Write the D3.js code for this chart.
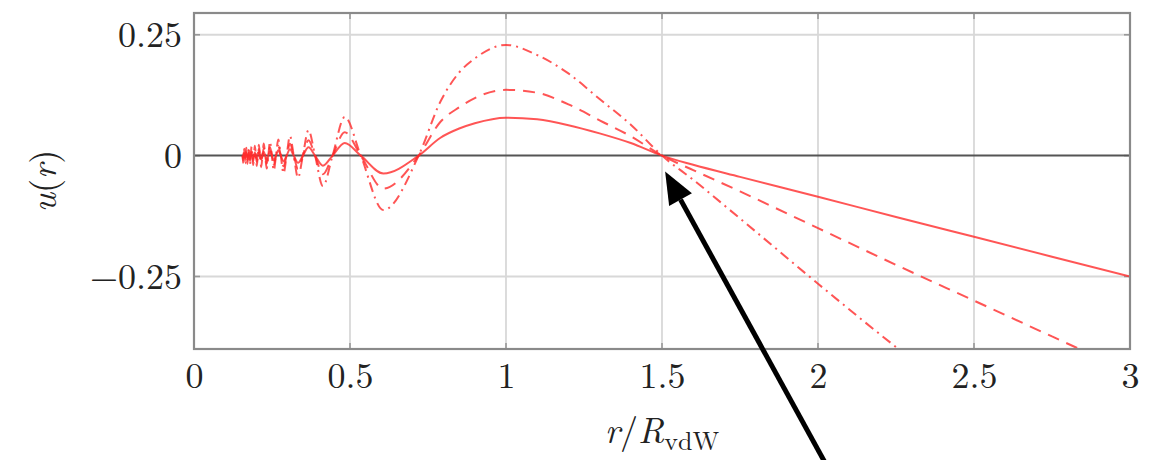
<!DOCTYPE html>
<html><head><meta charset="utf-8">
<script src="https://cdn.jsdelivr.net/npm/d3@7"></script>
<style>html,body{margin:0;padding:0;background:#fff;} svg{display:block;}</style>
</head><body><svg id="c" width="1154" height="460"></svg>
<script>
// r / R_vdW sample positions (nodes and extrema of inner oscillations, then outer region)
const rValues = [0.1558,0.1573,0.1589,0.1605,0.1621,0.1638,0.1656,0.1674,0.1692,0.1712,
  0.1732,0.1753,0.1774,0.1796,0.1820,0.1844,0.1869,0.1895,0.1922,0.1951,
  0.1981,0.2012,0.2045,0.2079,0.2115,0.2153,0.2194,0.2236,0.2282,0.2330,
  0.2381,0.2436,0.2495,0.2558,0.2627,0.2701,0.2782,0.2870,0.2968,0.3076,
  0.3197,0.3334,0.3489,0.3669,0.3880,0.4132,0.4441,0.4831,0.5345,0.6070,
  0.72,0.79,0.85,0.90,1.00,1.10,1.20,1.30,1.40,1.50,1.60,1.75,2.00,2.25,2.50,2.75,3.00];

const uSolid = [0,-0.0049,0,0.0050,0,-0.0052,0,0.0053,0,-0.0055,
  0,0.0057,0,-0.0059,0,0.0062,0,-0.0064,0,0.0067,
  0,-0.0070,0,0.0074,0,-0.0078,0,0.0082,0,-0.0088,
  0,0.0094,0,-0.0101,0,0.0110,0,-0.0120,0,0.0133,
  0,-0.0150,0,0.0173,0,-0.0207,0,0.0262,0,-0.0369,
  0,0.037,0.056,0.067,0.0785,0.075,0.063,0.046,0.026,0,-0.019,-0.044,-0.085,-0.127,-0.168,-0.209,-0.25];

const uDashed = [0,-0.0091,0,0.0093,0,-0.0096,0,0.0098,0,-0.0102,
  0,0.0105,0,-0.0109,0,0.0115,0,-0.0118,0,0.0124,
  0,-0.0130,0,0.0137,0,-0.0144,0,0.0152,0,-0.0163,
  0,0.0174,0,-0.0187,0,0.0204,0,-0.0222,0,0.0246,
  0,-0.0278,0,0.0320,0,-0.0383,0,0.0485,0,-0.0683,
  0,0.070,0.100,0.119,0.136,0.130,0.106,0.073,0.040,0,-0.030,-0.074,-0.150,-0.226,-0.300,-0.374,-0.448];

const uDashDot = [0,-0.0149,0,0.0153,0,-0.0159,0,0.0162,0,-0.0168,
  0,0.0174,0,-0.0180,0,0.0189,0,-0.0195,0,0.0204,
  0,-0.0214,0,0.0226,0,-0.0238,0,0.0250,0,-0.0268,
  0,0.0287,0,-0.0308,0,0.0336,0,-0.0366,0,0.0406,
  0,-0.0458,0,0.0528,0,-0.0631,0,0.0799,0,-0.1125,
  0,0.112,0.172,0.201,0.229,0.208,0.170,0.117,0.064,0,-0.050,-0.130,-0.265,-0.396,-0.52,-0.65,-0.78];

const xTicks = [0,0.5,1,1.5,2,2.5,3];
const xTickLabels = ["0","0.5","1","1.5","2","2.5","3"];
const yTicks = [-0.25,0,0.25];
const yTickLabels = ["\u22120.25","0","0.25"];
const arrowTip = [1.51,-0.033];
const arrowTail = [2.02,-0.632];

const L=194,R=1130,T=13,B=349;
const FONT = "'Latin Modern Roman','CMU Serif','Liberation Serif','DejaVu Serif',serif";
const svg = d3.select("#c");
const x = d3.scaleLinear().domain([0,3]).range([L,R]);
const y = d3.scaleLinear().domain([-0.4,0.295]).range([B,T]);

// grid
const grid = svg.append("g");
grid.selectAll("line.gx").data(xTicks.filter(v=>v>0&&v<3)).join("line")
  .attr("x1",d=>x(d)).attr("x2",d=>x(d)).attr("y1",T).attr("y2",B)
  .attr("stroke","#d8d8d8").attr("stroke-width",1.8);
grid.selectAll("line.gy").data(yTicks.filter(v=>v!==0)).join("line")
  .attr("x1",L).attr("x2",R).attr("y1",d=>y(d)).attr("y2",d=>y(d))
  .attr("stroke","#d8d8d8").attr("stroke-width",1.8);

// small ticks
const tk = svg.append("g").attr("stroke","#999").attr("stroke-width",1.6);
xTicks.forEach(v=>{
  tk.append("line").attr("x1",x(v)).attr("x2",x(v)).attr("y1",B).attr("y2",B-6);
  tk.append("line").attr("x1",x(v)).attr("x2",x(v)).attr("y1",T).attr("y2",T+6);
});
yTicks.forEach(v=>{
  tk.append("line").attr("x1",L).attr("x2",L+6).attr("y1",y(v)).attr("y2",y(v));
  tk.append("line").attr("x1",R).attr("x2",R-6).attr("y1",y(v)).attr("y2",y(v));
});

// zero line
svg.append("line").attr("x1",L).attr("x2",R).attr("y1",y(0)).attr("y2",y(0))
  .attr("stroke","#555").attr("stroke-width",2);

// curves
svg.append("clipPath").attr("id","clip").append("rect")
  .attr("x",L).attr("y",T).attr("width",R-L).attr("height",B-T);
const line = d3.line().x(d=>x(d[0])).y(d=>y(d[1])).curve(d3.curveMonotoneX);
const series = [
  {vals:uSolid, dash:null},
  {vals:uDashed, dash:"12,8"},
  {vals:uDashDot, dash:"10,5,2,5"}
];
const cg = svg.append("g").attr("clip-path","url(#clip)");
series.forEach(s=>{
  cg.append("path").datum(rValues.map((r,i)=>[r,s.vals[i]]))
    .attr("d",line).attr("fill","none").attr("stroke","#ff2a2a")
    .attr("stroke-opacity",0.8).attr("stroke-width",2)
    .attr("stroke-dasharray",s.dash);
});

// frame
svg.append("rect").attr("x",L).attr("y",T).attr("width",R-L).attr("height",B-T)
  .attr("fill","none").attr("stroke","#8a8a8a").attr("stroke-width",2.2);

// axis labels
const xAxis = d3.axisBottom(x).tickValues(xTicks).tickSize(0).tickPadding(13)
  .tickFormat((d,i)=>xTickLabels[i]);
const gx = svg.append("g").attr("transform",`translate(0,${B})`).call(xAxis);
gx.select(".domain").remove();
gx.selectAll("text").attr("font-family",FONT).attr("font-size",36).attr("fill","#222");

const yAxis = d3.axisLeft(y).tickValues(yTicks).tickSize(0).tickPadding(12)
  .tickFormat((d,i)=>yTickLabels[yTicks.indexOf(d)]);
const gy = svg.append("g").attr("transform",`translate(${L},0)`).call(yAxis);
gy.select(".domain").remove();
gy.selectAll("text").attr("font-family",FONT).attr("font-size",36).attr("fill","#222");

// y title
const yt = svg.append("text").attr("transform",`translate(56,${(T+B)/2}) rotate(-90)`)
  .attr("text-anchor","middle").attr("font-family",FONT).attr("font-size",36).attr("fill","#222");
yt.append("tspan").attr("font-style","italic").text("u");
yt.append("tspan").text("(");
yt.append("tspan").attr("font-style","italic").text("r");
yt.append("tspan").text(")");

// x title
const xt = svg.append("text").attr("x",(L+R)/2).attr("y",443)
  .attr("text-anchor","middle").attr("font-family",FONT).attr("font-size",36).attr("fill","#222");
xt.append("tspan").attr("font-style","italic").text("r");
xt.append("tspan").text("/");
xt.append("tspan").attr("font-style","italic").text("R");
xt.append("tspan").attr("font-size",26).attr("dy",7).text("vdW");

// arrow annotation
const tx = x(arrowTip[0]), ty = y(arrowTip[1]);
const sx = x(arrowTail[0]), sy = y(arrowTail[1]);
const ang = Math.atan2(ty-sy, tx-sx);
const hl = 32, hw = 13;
const bx = tx - hl*Math.cos(ang), by = ty - hl*Math.sin(ang);
svg.append("line").attr("x1",sx).attr("y1",sy).attr("x2",bx).attr("y2",by)
  .attr("stroke","#000").attr("stroke-width",5);
const px = -Math.sin(ang), py = Math.cos(ang);
svg.append("polygon").attr("points",[
  [tx,ty],[bx+hw*px,by+hw*py],[bx-hw*px,by-hw*py]].map(p=>p.join(",")).join(" "))
  .attr("fill","#000");
</script></body></html>
